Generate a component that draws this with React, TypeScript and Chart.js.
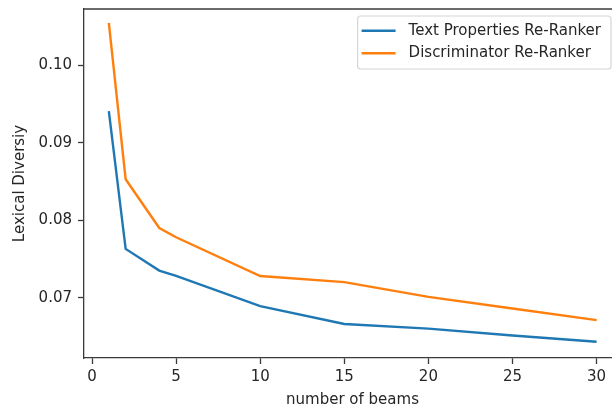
import React, { useEffect, useRef } from "react";
import { Chart, registerables } from "chart.js";

Chart.register(...registerables);

const beams = [1, 2, 4, 5, 10, 15, 20, 25, 30];
const textPropsSeries = [0.0941, 0.0763, 0.0735, 0.0728, 0.0689, 0.0666, 0.066, 0.0651, 0.0643];
const discriminatorSeries = [0.1055, 0.0853, 0.079, 0.0778, 0.0728, 0.072, 0.0701, 0.0686, 0.0671];
const xTicks = [0, 5, 10, 15, 20, 25, 30];
const yTicks = [0.07, 0.08, 0.09, 0.1];
const seriesLabels = ["Text Properties Re-Ranker", "Discriminator Re-Ranker"];
const seriesColors = ["#1f77b4", "#ff7f0e"];
const xTitle = "number of beams";
const yTitle = "Lexical Diversiy";

const FONT_FAMILY = "'DejaVu Sans', sans-serif";
const FONT_SIZE = 15;
const TEXT_COLOR = "#262626";
const AXIS_COLOR = "#3a3a3a";

const framePlugin = {
  id: "mplFrame",
  afterDraw(chart: any) {
    const { ctx, chartArea } = chart;
    ctx.save();
    // top spine (the right spine lies just outside the visible picture)
    ctx.strokeStyle = AXIS_COLOR;
    ctx.lineWidth = 1.3;
    ctx.beginPath();
    ctx.moveTo(chartArea.left, chartArea.top);
    ctx.lineTo(chartArea.right, chartArea.top);
    ctx.stroke();

    // matplotlib-style legend, upper right
    ctx.font = `${FONT_SIZE}px ${FONT_FAMILY}`;
    const datasets = chart.data.datasets;
    let textW = 0;
    datasets.forEach((d: any) => {
      textW = Math.max(textW, ctx.measureText(d.label).width);
    });
    const boxW = 4 + 34 + 13 + textW + 10;
    const boxH = 53;
    const right = chartArea.right - 10;
    const left = right - boxW;
    const top = chartArea.top + 7;
    const r = 3;
    ctx.beginPath();
    ctx.moveTo(left + r, top);
    ctx.lineTo(right - r, top);
    ctx.quadraticCurveTo(right, top, right, top + r);
    ctx.lineTo(right, top + boxH - r);
    ctx.quadraticCurveTo(right, top + boxH, right - r, top + boxH);
    ctx.lineTo(left + r, top + boxH);
    ctx.quadraticCurveTo(left, top + boxH, left, top + boxH - r);
    ctx.lineTo(left, top + r);
    ctx.quadraticCurveTo(left, top, left + r, top);
    ctx.closePath();
    ctx.fillStyle = "rgba(255,255,255,0.8)";
    ctx.fill();
    ctx.strokeStyle = "#d6d6d6";
    ctx.lineWidth = 1.2;
    ctx.stroke();

    const rowsY = [top + 14.7, top + 37.3];
    datasets.forEach((d: any, i: number) => {
      const y = rowsY[i];
      ctx.strokeStyle = d.borderColor;
      ctx.lineWidth = 2.4;
      ctx.beginPath();
      ctx.moveTo(left + 4, y);
      ctx.lineTo(left + 38, y);
      ctx.stroke();
      ctx.fillStyle = TEXT_COLOR;
      ctx.textAlign = "left";
      ctx.textBaseline = "middle";
      ctx.fillText(d.label, left + 51, y);
    });
    ctx.restore();
  },
};

export default function App() {
  const canvasRef = useRef<HTMLCanvasElement | null>(null);

  useEffect(() => {
    const canvas = canvasRef.current;
    if (!canvas) return;
    const font = { family: FONT_FAMILY, size: FONT_SIZE };
    const chart = new Chart(canvas, {
      type: "line",
      data: {
        datasets: [
          {
            label: seriesLabels[0],
            data: beams.map((b, i) => ({ x: b, y: textPropsSeries[i] })),
            borderColor: seriesColors[0],
            backgroundColor: seriesColors[0],
            borderWidth: 2.4,
            pointRadius: 0,
            tension: 0,
          },
          {
            label: seriesLabels[1],
            data: beams.map((b, i) => ({ x: b, y: discriminatorSeries[i] })),
            borderColor: seriesColors[1],
            backgroundColor: seriesColors[1],
            borderWidth: 2.4,
            pointRadius: 0,
            tension: 0,
          },
        ],
      },
      options: {
        responsive: false,
        animation: false,
        layout: { padding: { top: 9, right: 19, bottom: 0, left: 0 } },
        plugins: {
          legend: { display: false },
          tooltip: { enabled: false },
        },
        scales: {
          x: {
            type: "linear",
            min: -0.476,
            max: 31.45,
            afterBuildTicks: (scale: any) => {
              scale.ticks = xTicks.map((v) => ({ value: v }));
            },
            afterFit: (scale: any) => {
              scale.height = 56;
              scale.paddingLeft = 0;
              scale.paddingRight = 0;
            },
            grid: {
              display: true,
              drawOnChartArea: false,
              drawTicks: true,
              tickLength: 6,
              tickColor: AXIS_COLOR,
              tickWidth: 1.3,
            },
            border: { display: true, color: AXIS_COLOR, width: 1.3 },
            ticks: {
              color: TEXT_COLOR,
              font,
              padding: 4,
              maxRotation: 0,
              callback: (v: any) => String(v),
            },
            title: {
              display: true,
              text: xTitle,
              color: TEXT_COLOR,
              font,
              padding: { top: 0, bottom: 5 },
            },
          },
          y: {
            type: "linear",
            min: 0.0622,
            max: 0.1073,
            afterBuildTicks: (scale: any) => {
              scale.ticks = yTicks.map((v) => ({ value: v }));
            },
            afterFit: (scale: any) => {
              scale.width = 84;
              scale.paddingTop = 0;
              scale.paddingBottom = 0;
            },
            grid: {
              display: true,
              drawOnChartArea: false,
              drawTicks: true,
              tickLength: 6,
              tickColor: AXIS_COLOR,
              tickWidth: 1.3,
            },
            border: { display: true, color: AXIS_COLOR, width: 1.3 },
            ticks: {
              color: TEXT_COLOR,
              font,
              padding: 6,
              callback: (v: any) => Number(v).toFixed(2),
            },
            title: {
              display: true,
              text: yTitle,
              color: TEXT_COLOR,
              font,
              padding: { top: 11, bottom: 0 },
            },
          },
        },
      },
      plugins: [framePlugin],
    });
    return () => chart.destroy();
  }, []);

  return (
    <div
      style={{
        position: "fixed",
        left: 0,
        top: 0,
        width: 612,
        height: 414,
        overflow: "hidden",
        background: "#fff",
      }}
    >
      <canvas
        ref={canvasRef}
        width={640}
        height={414}
        style={{ display: "block", width: 640, height: 414 }}
      />
    </div>
  );
}
